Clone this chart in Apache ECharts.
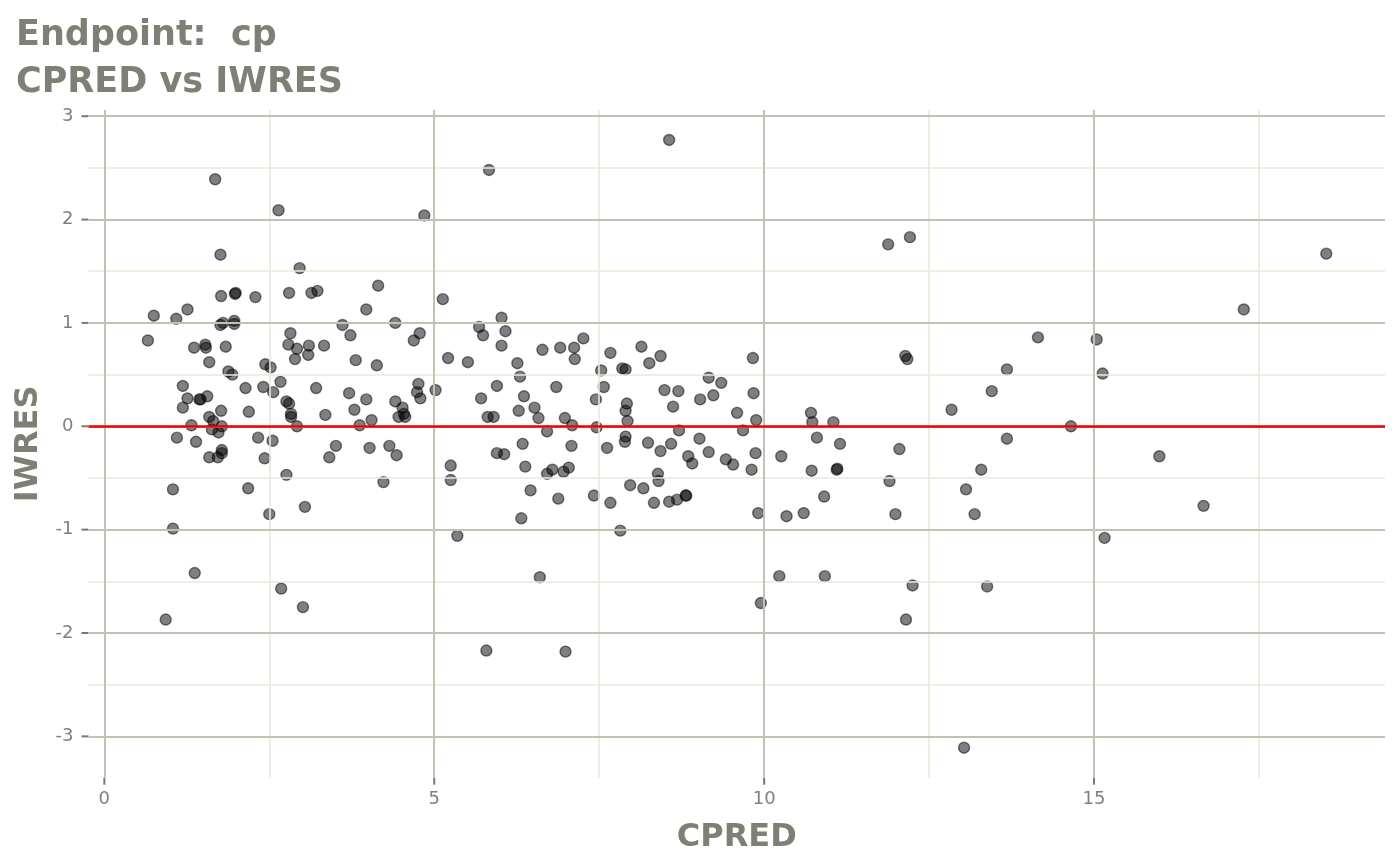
<!DOCTYPE html>
<html>
<head>
<meta charset="utf-8">
<script src="https://cdn.jsdelivr.net/npm/echarts@6/dist/echarts.min.js"></script>
<style>
html,body{margin:0;padding:0;background:#fff;}
#chart{width:1400px;height:865px;}
</style>
</head>
<body>
<div id="chart"></div>
<script>
const cpred = [
1.68,2.64,1.76,2.96,1.77,1.98,1.99,2.29,2.80,3.14,3.23,4.15,0.75,1.09,1.26,1.76,1.80,1.97,1.97,3.97,
3.61,4.41,4.85,0.66,1.36,1.53,1.54,1.84,1.59,1.88,1.94,2.82,2.79,2.92,3.10,3.33,2.89,3.09,2.44,2.52,
3.73,3.81,4.13,4.69,4.78,1.19,1.26,1.44,1.46,1.56,1.19,1.77,1.59,1.65,1.32,1.78,1.63,1.73,2.14,2.19,
2.41,2.56,2.67,2.76,2.80,2.83,2.83,2.92,3.21,3.35,3.71,3.79,3.97,4.05,3.87,4.41,4.52,4.46,4.54,4.56,
4.76,4.74,4.79,1.10,1.39,1.59,1.72,1.78,1.78,2.33,2.55,2.43,2.76,3.51,3.41,4.02,4.32,4.43,4.23,1.04,
2.18,2.50,3.04,1.04,1.37,2.68,3.01,0.93,
8.56,5.83,5.13,6.02,5.68,5.74,6.08,6.02,5.21,5.51,6.26,6.30,6.64,6.91,7.12,7.13,7.26,7.67,7.53,7.85,
7.90,8.14,8.26,8.43,9.83,5.02,5.71,5.95,5.81,5.90,6.28,6.36,6.52,6.58,6.85,6.98,7.09,7.45,7.57,7.46,
7.92,7.90,7.93,8.49,8.70,8.62,9.16,9.35,9.23,9.03,9.59,9.84,9.88,6.71,6.34,7.08,5.95,6.06,5.25,5.25,
6.38,6.71,6.79,6.96,7.04,6.46,6.88,6.32,5.35,6.60,5.79,6.99,7.62,7.90,7.89,8.24,8.43,8.59,8.71,9.02,
9.16,8.85,8.91,9.42,9.53,9.68,9.87,9.81,9.91,9.95,7.67,7.82,7.42,7.97,8.17,8.39,8.40,8.33,8.56,8.68,
8.81,8.82,
11.88,12.21,12.14,12.17,14.15,15.04,13.68,15.13,13.45,12.84,14.65,10.71,10.73,11.05,10.80,11.15,10.26,10.72,11.10,11.11,
12.05,13.68,13.29,11.90,13.06,10.91,10.34,10.60,11.99,13.19,10.23,10.92,12.25,13.38,12.15,13.03,15.16,18.52,17.27,15.99,
16.66
];
const iwres = [
2.39,2.09,1.66,1.53,1.26,1.28,1.29,1.25,1.29,1.29,1.31,1.36,1.07,1.04,1.13,0.98,1.00,1.02,0.99,1.13,
0.98,1.00,2.04,0.83,0.76,0.79,0.76,0.77,0.62,0.53,0.50,0.90,0.79,0.75,0.78,0.78,0.65,0.69,0.60,0.57,
0.88,0.64,0.59,0.83,0.90,0.39,0.27,0.26,0.26,0.29,0.18,0.15,0.09,0.05,0.01,0.00,-0.03,-0.06,0.37,0.14,
0.38,0.33,0.43,0.24,0.22,0.12,0.09,0.00,0.37,0.11,0.32,0.16,0.26,0.06,0.01,0.24,0.18,0.09,0.12,0.09,
0.41,0.33,0.27,-0.11,-0.15,-0.30,-0.30,-0.23,-0.26,-0.11,-0.14,-0.31,-0.47,-0.19,-0.30,-0.21,-0.19,-0.28,-0.54,-0.61,
-0.60,-0.85,-0.78,-0.99,-1.42,-1.57,-1.75,-1.87,
2.77,2.48,1.23,1.05,0.96,0.88,0.92,0.78,0.66,0.62,0.61,0.48,0.74,0.76,0.76,0.65,0.85,0.71,0.54,0.56,
0.55,0.77,0.61,0.68,0.66,0.35,0.27,0.39,0.09,0.09,0.15,0.29,0.18,0.08,0.38,0.08,0.01,0.26,0.38,-0.01,
0.22,0.15,0.05,0.35,0.34,0.19,0.47,0.42,0.30,0.26,0.13,0.32,0.06,-0.05,-0.17,-0.19,-0.26,-0.27,-0.38,-0.52,
-0.39,-0.46,-0.42,-0.44,-0.40,-0.62,-0.70,-0.89,-1.06,-1.46,-2.17,-2.18,-0.21,-0.10,-0.15,-0.16,-0.24,-0.17,-0.04,-0.12,
-0.25,-0.29,-0.36,-0.32,-0.37,-0.04,-0.26,-0.42,-0.84,-1.71,-0.74,-1.01,-0.67,-0.57,-0.60,-0.46,-0.53,-0.74,-0.73,-0.71,
-0.67,-0.67,
1.76,1.83,0.68,0.65,0.86,0.84,0.55,0.51,0.34,0.16,0.00,0.13,0.04,0.04,-0.11,-0.17,-0.29,-0.43,-0.42,-0.41,
-0.22,-0.12,-0.42,-0.53,-0.61,-0.68,-0.87,-0.84,-0.85,-0.85,-1.45,-1.45,-1.54,-1.55,-1.87,-3.11,-1.08,1.67,1.13,-0.29,
-0.77
];
const xTicks = [0, 5, 10, 15];
const xMinor = [2.5, 7.5, 12.5, 17.5];
const yTicks = [-3, -2, -1, 0, 1, 2, 3];
const yMinor = [-2.5, -1.5, -0.5, 0.5, 1.5, 2.5];
const refLine = [0];

const points = cpred.map((x, i) => [x, iwres[i]]);
const FONT = 'DejaVu Sans';
const TITLE_COL = '#7f7f75';
const LABEL_COL = '#808080';
const MAJOR = '#c2c2b4';
const MINOR = '#e8e8da';
const X_MIN = -0.24, X_MAX = 19.41, Y_MIN = -3.40, Y_MAX = 3.06;

const chart = echarts.init(document.getElementById('chart'), null, {renderer: 'canvas'});
chart.setOption({
  animation: false,
  backgroundColor: '#ffffff',
  title: {
    text: 'Endpoint:  cp\nCPRED vs IWRES',
    left: 16, top: 12, padding: 0,
    textStyle: {fontFamily: FONT, fontSize: 35, fontWeight: 'bold', color: TITLE_COL, lineHeight: 47}
  },
  grid: {left: 88.5, right: 15, top: 110, bottom: 87.3, containLabel: false},
  xAxis: {
    type: 'value', min: X_MIN, max: X_MAX,
    name: 'CPRED', nameLocation: 'middle', nameGap: 44,
    nameTextStyle: {fontFamily: FONT, fontSize: 32, fontWeight: 'bold', color: TITLE_COL},
    axisLine: {show: false},
    splitLine: {show: false},
    axisTick: {show: false},
    axisLabel: {customValues: xTicks, margin: 13, fontFamily: FONT, fontSize: 18, color: LABEL_COL}
  },
  yAxis: {
    type: 'value', min: Y_MIN, max: Y_MAX,
    name: 'IWRES', nameLocation: 'middle', nameGap: 41, nameRotate: 90,
    nameTextStyle: {fontFamily: FONT, fontSize: 32, fontWeight: 'bold', color: TITLE_COL},
    axisLine: {show: false},
    splitLine: {show: false},
    axisTick: {show: false},
    axisLabel: {customValues: yTicks, margin: 15, fontFamily: FONT, fontSize: 18, color: LABEL_COL}
  },
  series: [
    {
      type: 'scatter', data: [], z: 1, silent: true,
      markLine: {
        silent: true, symbol: ['none', 'none'], label: {show: false}, animation: false,
        data: [
          ...xMinor.map(v => ({xAxis: v, lineStyle: {color: MINOR, width: 1.6, type: 'solid'}})),
          ...yMinor.map(v => ({yAxis: v, lineStyle: {color: MINOR, width: 1.6, type: 'solid'}})),
          ...xTicks.map(v => ({xAxis: v, lineStyle: {color: MAJOR, width: 2, type: 'solid'}})),
          ...yTicks.map(v => ({yAxis: v, lineStyle: {color: MAJOR, width: 2, type: 'solid'}}))
        ]
      }
    },
    {
      type: 'scatter', data: [], z: 2, silent: true,
      markLine: {
        silent: true, symbol: ['none', 'none'], label: {show: false}, animation: false,
        data: refLine.map(v => ({yAxis: v, lineStyle: {color: '#ee0000', width: 2.6, type: 'solid'}}))
      }
    },
    {
      type: 'scatter', data: points, z: 3,
      symbol: 'circle', symbolSize: 11,
      itemStyle: {color: 'rgba(0,0,0,0.5)', borderColor: 'rgba(0,0,0,0.5)', borderWidth: 1.4, opacity: 1}
    }
  ]
});

// axis tick marks placed through the library's own scales
const tickStyle = {stroke: '#777', lineWidth: 2};
const tickEls = [];
xTicks.forEach(v => {
  const p = chart.convertToPixel({gridIndex: 0}, [v, Y_MIN]);
  tickEls.push({type: 'line', silent: true, shape: {x1: p[0], y1: p[1], x2: p[0], y2: p[1] + 7}, style: tickStyle});
});
yTicks.forEach(v => {
  const p = chart.convertToPixel({gridIndex: 0}, [X_MIN, v]);
  tickEls.push({type: 'line', silent: true, shape: {x1: p[0] - 7, y1: p[1], x2: p[0], y2: p[1]}, style: tickStyle});
});
chart.setOption({graphic: tickEls});
</script>
</body>
</html>
